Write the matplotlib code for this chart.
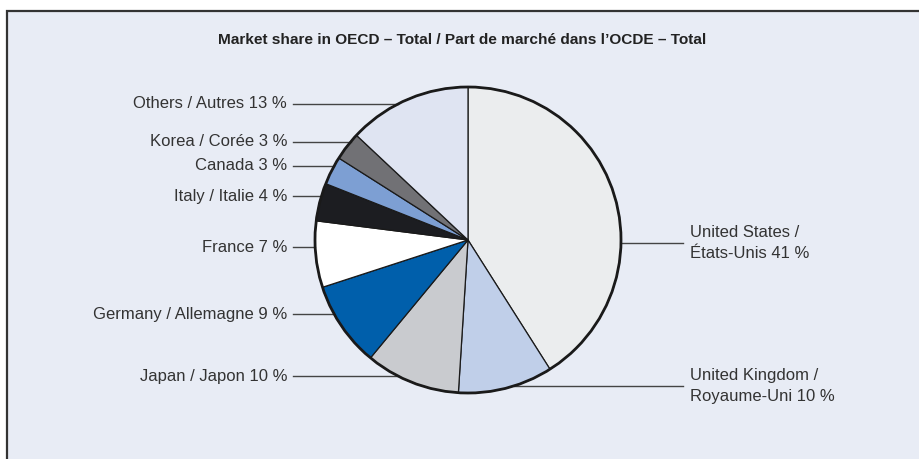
import matplotlib
matplotlib.use("Agg")
import matplotlib.pyplot as plt
from matplotlib.patches import Rectangle, Circle
import numpy as np

plt.rcParams['font.family'] = ['Liberation Sans Narrow', 'Liberation Sans', 'DejaVu Sans']

title = "Market share in OECD \u2013 Total / Part de march\u00e9 dans l\u2019OCDE \u2013 Total"
labels = ["United States /\n\u00c9tats-Unis 41 %", "United Kingdom /\nRoyaume-Uni 10 %",
          "Japan / Japon 10 %", "Germany / Allemagne 9 %", "France 7 %",
          "Italy / Italie 4 %", "Canada 3 %", "Korea / Cor\u00e9e 3 %", "Others / Autres 13 %"]
values = [41, 10, 10, 9, 7, 4, 3, 3, 13]
colors = ["#ebedee", "#c0cfe9", "#c9cbcf", "#005fab", "#ffffff",
          "#1c1d21", "#7d9fd3", "#717175", "#dfe4f2"]

W, H = 919, 459
fig = plt.figure(figsize=(W / 100, H / 100), dpi=100)
fig.patch.set_facecolor("white")
ax = fig.add_axes([0, 0, 1, 1])

# frame
ax.add_patch(Rectangle((7, -20), W + 50, H - 11 + 20, facecolor="#e8ecf5",
                       edgecolor="#333333", linewidth=1.6, zorder=0))

cx, cy, r = 468, H - 240, 153
wedges, _ = ax.pie(values, colors=colors, startangle=90, counterclock=False,
                   center=(cx, cy), radius=r, frame=True,
                   wedgeprops=dict(edgecolor="#1a1a1a", linewidth=0.9))
ax.set_xlim(0, W)
ax.set_ylim(0, H)
ax.axis("off")
ax.add_patch(Circle((cx, cy), r, fill=False, edgecolor="#1a1a1a", linewidth=2.0, zorder=5))

ax.text(462, H - 40, title, ha="center", va="center", fontsize=11.1,
        fontweight="bold", color="#222222")

txt_color = "#333333"
fs = 12
# left-side labels: (index, y in px from top)
left_pos = {8: 104, 7: 142, 6: 166, 5: 196, 4: 247, 3: 314, 2: 376}
for i, ypx in left_pos.items():
    y = H - ypx
    dy = abs(y - cy)
    xe = cx - np.sqrt(max(r * r - dy * dy, 0))
    ax.plot([293, xe], [y, y], color="#444444", linewidth=1.0, zorder=1)
    ax.text(287, y, labels[i], ha="right", va="center", fontsize=fs, color=txt_color)

# right-side labels
right_pos = {0: 243, 1: 386}
for i, ypx in right_pos.items():
    y = H - ypx
    dy = abs(y - cy)
    xe = cx + np.sqrt(max(r * r - dy * dy, 0))
    ax.plot([xe, 683], [y, y], color="#444444", linewidth=1.0, zorder=1)
    ax.text(690, y, labels[i], ha="left", va="center", fontsize=fs, color=txt_color,
            linespacing=1.55)

fig.savefig("out.png", dpi=100, facecolor=fig.get_facecolor())
